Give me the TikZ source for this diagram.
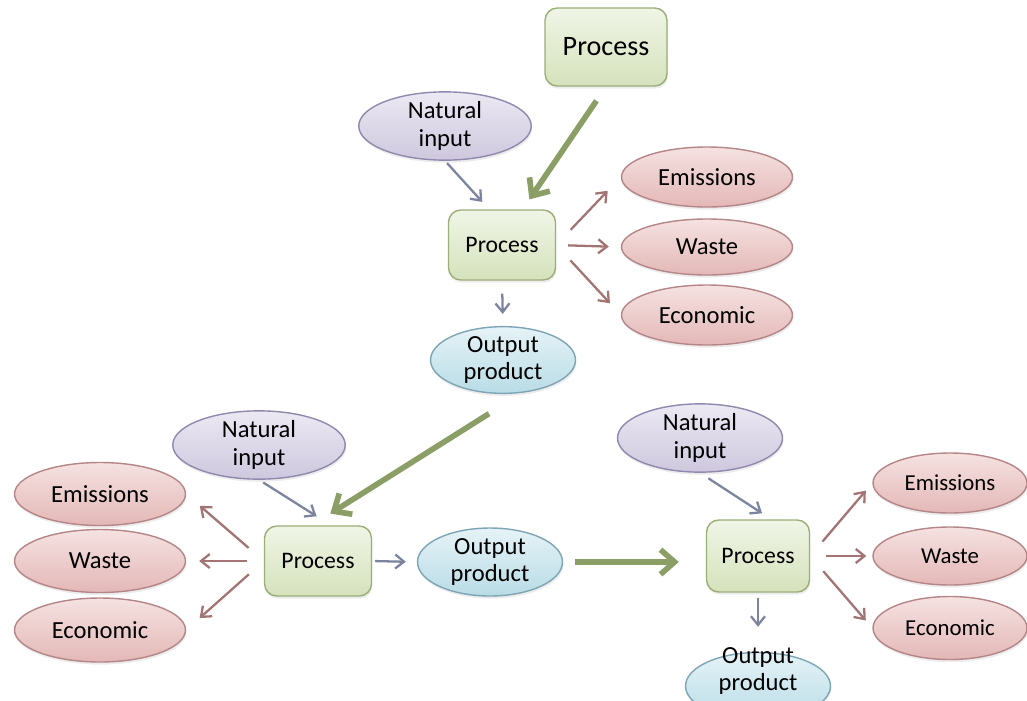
\documentclass[tikz,border=0pt]{standalone}
\usepackage{fontspec}
\setmainfont{Carlito}
\usepackage{tikz}
\usetikzlibrary{shapes.geometric,shadows,arrows.meta}

\definecolor{procline}{HTML}{9AAE78}
\definecolor{proctop}{HTML}{F0F5E6}
\definecolor{procbot}{HTML}{D5E2BC}
\definecolor{natline}{HTML}{8F89AD}
\definecolor{nattop}{HTML}{ECE9F3}
\definecolor{natbot}{HTML}{CEC7DE}
\definecolor{wasteline}{HTML}{B58587}
\definecolor{wastetop}{HTML}{F5E2E1}
\definecolor{wastebot}{HTML}{E3B8B7}
\definecolor{outline}{HTML}{7EA5B5}
\definecolor{outtop}{HTML}{E5F3F7}
\definecolor{outbot}{HTML}{B9DCE6}
\definecolor{inarrowc}{HTML}{7D849F}
\definecolor{wastearrowc}{HTML}{A27473}
\definecolor{bigarrowc}{HTML}{8A9E66}

\begin{document}
\begin{tikzpicture}[
    x=0.02cm, y=-0.02cm,
    procbox/.style={rectangle, draw=procline, line width=0.8pt, rounded corners=7pt, top color=proctop, bottom color=procbot, align=center, minimum width=2.14cm, minimum height=1.4cm, font=\fontsize{13.5}{15}\selectfont, drop shadow={opacity=0.15, shadow xshift=0.5pt, shadow yshift=-1.5pt}},
    blob/.style={ellipse, line width=0.8pt, align=center, inner sep=0pt, font=\fontsize{14}{15.5}\selectfont, drop shadow={opacity=0.15, shadow xshift=0.5pt, shadow yshift=-1.5pt}},
    natblob/.style={blob, draw=natline, top color=nattop, bottom color=natbot, minimum width=3.45cm, minimum height=1.3cm},
    wasteblob/.style={blob, draw=wasteline, top color=wastetop, bottom color=wastebot, minimum width=3.42cm, minimum height=1.2cm},
    outblob/.style={blob, draw=outline, top color=outtop, bottom color=outbot, minimum width=2.9cm, minimum height=1.25cm},
    inarrow/.style={-{Straight Barb[length=5pt,width=8pt]}, line width=1.3pt, color=inarrowc},
    wastearrow/.style={-{Straight Barb[length=5pt,width=8pt]}, line width=1.3pt, color=wastearrowc},
    bigarrow/.style={-{Straight Barb[length=8pt,width=14pt]}, line width=3.2pt, color=bigarrowc}
]
    \useasboundingbox (0,0) rectangle (1027,700);

    % Top part
    \node[procbox, minimum width=2.44cm, minimum height=1.56cm, font=\fontsize{16}{18}\selectfont] (topproc) at (606,47) {Process};
    \node[natblob] (nat1) at (445,126) {Natural\\input};
    \node[procbox] (proc1) at (502,245) {Process};
    \node[wasteblob] (emis1) at (707,177) {Emissions};
    \node[wasteblob, minimum height=1.12cm] (waste1) at (707,247) {Waste};
    \node[wasteblob] (econ1) at (707,315) {Economic};
    \node[outblob] (out1) at (503,360) {Output\\product};

    % Bottom left part
    \node[natblob] (nat2) at (259,445) {Natural\\input};
    \node[procbox] (proc2) at (318,561) {Process};
    \node[wasteblob, minimum height=1.26cm] (emis2) at (100,494) {Emissions};
    \node[wasteblob, minimum height=1.26cm] (waste2) at (100,561) {Waste};
    \node[wasteblob, minimum height=1.28cm] (econ2) at (100,630) {Economic};
    \node[outblob, minimum height=1.36cm] (out2) at (490,562) {Output\\product};

    % Bottom right part
    \node[natblob, minimum width=3.3cm] (nat3) at (700,438) {Natural\\input};
    \node[procbox, minimum width=2.06cm, minimum height=1.44cm] (proc3) at (758,556) {Process};
    \node[wasteblob, minimum width=3.08cm, font=\fontsize{13}{15}\selectfont] (emis3) at (950,483) {Emissions};
    \node[wasteblob, minimum width=3.08cm, minimum height=1.16cm, font=\fontsize{13}{15}\selectfont] (waste3) at (950,556) {Waste};
    \node[wasteblob, minimum width=3.08cm, minimum height=1.26cm, font=\fontsize{13}{15}\selectfont] (econ3) at (950,628) {Economic};
    \node[outblob, minimum height=1.34cm, label={[align=center, font=\fontsize{14}{15.5}\selectfont, yshift=0.3cm]center:Output\\product}] (out3) at (758,686) {};

    % Arrows
    \draw[bigarrow, shorten <=0.34cm, shorten >=0.24cm] (topproc.south) -- (proc1.60);
    \draw[inarrow, shorten <=0.06cm, shorten >=0.2cm] (nat1.south) -- (proc1.110);
    \draw[wastearrow, shorten <=0.42cm, shorten >=0.38cm] (proc1.east) -- (emis1.west);
    \draw[wastearrow, shorten <=0.24cm, shorten >=0.24cm] (proc1.east) -- (waste1.west);
    \draw[wastearrow, shorten <=0.42cm, shorten >=0.32cm] (proc1.east) -- (econ1.west);
    \draw[inarrow, shorten <=0.26cm, shorten >=0.24cm] (proc1.south) -- (out1.north);

    \draw[bigarrow, shorten <=0.78cm, shorten >=0.44cm] (out1.300) -- (proc2.100);
    \draw[inarrow, shorten <=0.1cm, shorten >=0.34cm] (nat2.south) -- (proc2.70);
    \draw[wastearrow, shorten <=0.4cm, shorten >=0.36cm] (proc2.west) -- (emis2.east);
    \draw[wastearrow, shorten <=0.34cm, shorten >=0.26cm] (proc2.west) -- (waste2.east);
    \draw[wastearrow, shorten <=0.4cm, shorten >=0.36cm] (proc2.west) -- (econ2.east);
    \draw[inarrow, shorten <=0.06cm, shorten >=0.22cm] (proc2.east) -- (out2.west);

    \draw[bigarrow, shorten <=0.24cm, shorten >=0.54cm] (out2.east) -- (out2.east -| proc3.west);
    \draw[inarrow, shorten <=0.2cm, shorten >=0.22cm] (nat3.south) -- (proc3.70);
    \draw[wastearrow, shorten <=0.38cm, shorten >=0.2cm] (proc3.east) -- (emis3.west);
    \draw[wastearrow, shorten <=0.32cm, shorten >=0.12cm] (proc3.east) -- (waste3.west);
    \draw[wastearrow, shorten <=0.4cm, shorten >=0.2cm] (proc3.east) -- (econ3.west);
    \draw[inarrow, shorten <=0.1cm, shorten >=0.5cm] (proc3.south) -- (out3.north);

\end{tikzpicture}
\end{document}
